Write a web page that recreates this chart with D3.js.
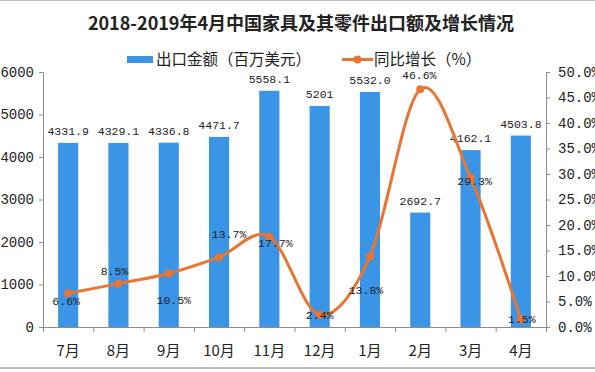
<!DOCTYPE html>
<html>
<head>
<meta charset="utf-8">
<script src="https://cdn.jsdelivr.net/npm/d3@7"></script>
<style>
  body { margin: 0; background: #fff; }
  text { fill: #222; }
</style>
</head>
<body>
<svg width="595" height="372"></svg>
<script>
const months = ["7月", "8月", "9月", "10月", "11月", "12月", "1月", "2月", "3月", "4月"];
const exportValues = [4331.9, 4329.1, 4336.8, 4471.7, 5558.1, 5201, 5532.0, 2692.7, 4162.1, 4503.8];
const exportLabels = ["4331.9", "4329.1", "4336.8", "4471.7", "5558.1", "5201", "5532.0", "2692.7", "4162.1", "4503.8"];
const growthRates = [6.6, 8.5, 10.5, 13.7, 17.7, 2.4, 13.8, 46.6, 29.3, 1.5];
const leftTicks = [0, 1000, 2000, 3000, 4000, 5000, 6000];
const rightTicks = [0, 5, 10, 15, 20, 25, 30, 35, 40, 45, 50];

// nudges for the growth labels, like the hand-moved labels in the original
const growthLabelDx = [-2, -4, 5, 10, 6, 0, -4, -1, 4, 1];
const growthLabelDy = [8, -13, 27, -23, 6, 0, 33, -14, 3, 0];

const barColor = "#3a95e6";
const lineColor = "#ea7431";
const mono = "'Liberation Mono', 'DejaVu Sans Mono', monospace";
const cjk = "'Noto Sans CJK SC', sans-serif";

const svg = d3.select("svg");
const plot = { left: 43, right: 546, top: 72, bottom: 327 };

// frame lines of the picture
svg.append("line").attr("x1", 0).attr("x2", 595).attr("y1", 0.5).attr("y2", 0.5).attr("stroke", "#bbb");
svg.append("line").attr("x1", 0).attr("x2", 595).attr("y1", 368).attr("y2", 368).attr("stroke", "#bbb").attr("stroke-width", 2);

const x = d3.scaleBand().domain(months).range([plot.left, plot.right]).paddingInner(0.6).paddingOuter(0.3);
const xTicks = d3.scaleLinear().domain([0, months.length]).range([plot.left, plot.right]);
const yLeft = d3.scaleLinear().domain([0, 6000]).range([plot.bottom, plot.top]);
const yRight = d3.scaleLinear().domain([0, 50]).range([plot.bottom, plot.top]);

// title
svg.append("text")
  .attr("x", 301).attr("y", 30)
  .attr("text-anchor", "middle")
  .style("font-family", cjk).style("font-size", "18px").style("font-weight", "bold")
  .text("2018-2019年4月中国家具及其零件出口额及增长情况");

// legend
const legend = svg.append("g");
legend.append("rect").attr("x", 127).attr("y", 56).attr("width", 26).attr("height", 7).attr("fill", barColor);
legend.append("text").attr("x", 156).attr("y", 65)
  .style("font-family", cjk).style("font-size", "15.5px")
  .text("出口金额（百万美元）");
legend.append("line").attr("x1", 342).attr("x2", 373).attr("y1", 59.5).attr("y2", 59.5)
  .attr("stroke", lineColor).attr("stroke-width", 3);
legend.append("circle").attr("cx", 357.5).attr("cy", 59.5).attr("r", 4).attr("fill", lineColor);
legend.append("text").attr("x", 374).attr("y", 65)
  .style("font-family", cjk).style("font-size", "15.5px")
  .text("同比增长（%）");

// axes
function styleAxis(g, font, size) {
  g.selectAll("path, line").attr("stroke", "#8c8c8c");
  g.selectAll("text").style("font-family", font).style("font-size", size).attr("fill", "#222");
}

svg.append("g")
  .attr("transform", `translate(${plot.left},0)`)
  .call(d3.axisLeft(yLeft).tickValues(leftTicks).tickSize(4).tickSizeOuter(4).tickPadding(5)
    .tickFormat(d3.format("d")))
  .call(g => styleAxis(g, mono, "14px"));

svg.append("g")
  .attr("transform", `translate(${plot.right},0)`)
  .call(d3.axisRight(yRight).tickValues(rightTicks).tickSize(4).tickSizeOuter(4).tickPadding(8)
    .tickFormat(d => d.toFixed(1) + "%"))
  .call(g => styleAxis(g, mono, "14px"));

svg.append("g")
  .attr("transform", `translate(0,${plot.bottom})`)
  .call(d3.axisBottom(xTicks).ticks(months.length).tickFormat("").tickSize(5).tickSizeOuter(0))
  .call(g => styleAxis(g, mono, "14px"));

svg.append("g")
  .selectAll("text")
  .data(months)
  .join("text")
  .attr("x", d => x(d) + x.bandwidth() / 2)
  .attr("y", 356)
  .attr("text-anchor", "middle")
  .style("font-family", cjk).style("font-size", "15px")
  .text(d => d);

// bars
svg.append("g")
  .selectAll("rect")
  .data(exportValues)
  .join("rect")
  .attr("x", (d, i) => x(months[i]))
  .attr("width", x.bandwidth())
  .attr("y", d => yLeft(d))
  .attr("height", d => plot.bottom - yLeft(d))
  .attr("fill", barColor);

svg.append("g")
  .selectAll("text")
  .data(exportValues)
  .join("text")
  .attr("x", (d, i) => x(months[i]) + x.bandwidth() / 2)
  .attr("y", d => yLeft(d) - 8)
  .attr("text-anchor", "middle")
  .style("font-family", mono).style("font-size", "11.5px")
  .text((d, i) => exportLabels[i]);

// growth line
const cx = i => x(months[i]) + x.bandwidth() / 2;
const line = d3.line()
  .x((d, i) => cx(i))
  .y(d => yRight(d))
  .curve(d3.curveCatmullRom.alpha(0));

svg.append("path")
  .datum(growthRates)
  .attr("d", line)
  .attr("fill", "none")
  .attr("stroke", lineColor)
  .attr("stroke-width", 3);

svg.append("g")
  .selectAll("circle")
  .data(growthRates)
  .join("circle")
  .attr("cx", (d, i) => cx(i))
  .attr("cy", d => yRight(d))
  .attr("r", 4)
  .attr("fill", lineColor);

svg.append("g")
  .selectAll("text")
  .data(growthRates)
  .join("text")
  .attr("x", (d, i) => cx(i) + growthLabelDx[i])
  .attr("y", (d, i) => yRight(d) + growthLabelDy[i] + 4)
  .attr("text-anchor", "middle")
  .style("font-family", mono).style("font-size", "11.5px")
  .text(d => d.toFixed(1) + "%");
</script>
</body>
</html>
